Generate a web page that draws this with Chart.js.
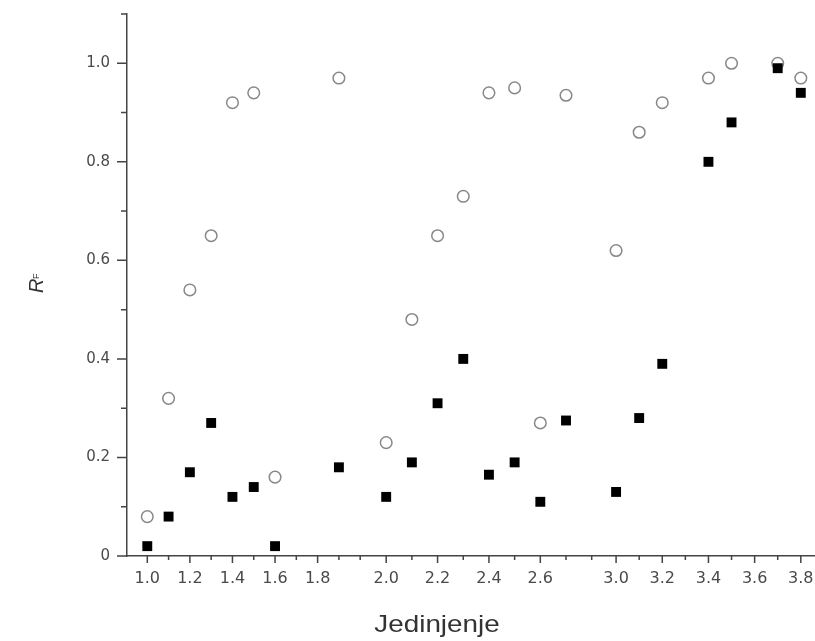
<!DOCTYPE html>
<html>
<head>
<meta charset="utf-8">
<script src="https://cdn.jsdelivr.net/npm/chart.js@4/dist/chart.umd.min.js"></script>
<style>
  html, body { margin: 0; padding: 0; background: #fff; }
  #wrap { width: 815px; height: 641px; }
</style>
</head>
<body>
<div id="wrap"><canvas id="rf"></canvas></div>
<script>
// compound numbers (Jedinjenje) and RF values
const compounds = [1.0, 1.1, 1.2, 1.3, 1.4, 1.5, 1.6, 1.9, 2.0, 2.1, 2.2, 2.3, 2.4, 2.5, 2.6, 2.7, 3.0, 3.1, 3.2, 3.4, 3.5, 3.7, 3.8];
const rfOpen   = [0.08, 0.32, 0.54, 0.65, 0.92, 0.94, 0.16, 0.97, 0.23, 0.48, 0.65, 0.73, 0.94, 0.95, 0.27, 0.935, 0.62, 0.86, 0.92, 0.97, 1.0, 1.0, 0.97];
const rfFilled = [0.02, 0.08, 0.17, 0.27, 0.12, 0.14, 0.02, 0.18, 0.12, 0.19, 0.31, 0.40, 0.165, 0.19, 0.11, 0.275, 0.13, 0.28, 0.39, 0.80, 0.88, 0.99, 0.94];

// tick labels along x, one per tick mark ('' = minor tick)
const xTickLabels = [
  '1.0', '', '1.2', '', '1.4', '', '1.6', '', '1.8', '', '',
  '2.0', '', '2.2', '', '2.4', '', '2.6', '', '',
  '3.0', '', '3.2', '', '3.4', '', '3.6', '', '3.8'
];
// the x axis is made of three pieces with a different width per 0.1 step
const xPieces = [
  { from: 1.0, count: 11, start: 0, step: 21.3 },
  { from: 2.0, count: 9, start: 239, step: 25.7 },
  { from: 3.0, count: 9, start: 469, step: 23.1 }
];

class PiecewiseScale extends Chart.Scale {
  static id = 'piecewise';
  static defaults = {};
  determineDataLimits() {
    this.min = this.options.min;
    this.max = this.options.max;
  }
  buildTicks() {
    const ticks = [];
    let k = 0;
    xPieces.forEach(p => {
      for (let j = 0; j < p.count; j++) {
        ticks.push({ value: p.from + j / 10, pos: p.start + j * p.step, text: xTickLabels[k] });
        k++;
      }
    });
    return ticks;
  }
  toAxis(v) {
    let piece = xPieces[0];
    xPieces.forEach(p => { if (v >= p.from - 1e-9) piece = p; });
    return piece.start + (v - piece.from) * 10 * piece.step;
  }
  getPixelForValue(v) {
    return this.getPixelForDecimal((this.toAxis(v) - this.min) / (this.max - this.min));
  }
  getPixelForTick(i) {
    const t = this.ticks[i];
    return this.getPixelForDecimal((t.pos - this.min) / (this.max - this.min));
  }
  getValueForPixel(px) {
    return this.getDecimalForPixel(px) * (this.max - this.min) + this.min;
  }
  getLabelForValue(v) { return String(v); }
}
Chart.register(PiecewiseScale);

const axisDecor = {
  id: 'axisDecor',
  afterDraw(chart) {
    const { ctx, chartArea: area } = chart;
    const x = chart.scales.x, y = chart.scales.y;
    ctx.save();
    ctx.strokeStyle = '#444';
    ctx.lineWidth = 1.5;
    ctx.beginPath();
    x.ticks.forEach((t, i) => {
      const px = x.getPixelForTick(i);
      ctx.moveTo(px, area.bottom);
      ctx.lineTo(px, area.bottom + (t.text ? 7 : 4));
    });
    y.ticks.forEach((t, i) => {
      const py = y.getPixelForTick(i);
      ctx.moveTo(area.left, py);
      ctx.lineTo(area.left - (i % 2 ? 6 : 10), py);
    });
    ctx.stroke();

    // x title (the original is slightly stretched sideways)
    ctx.save();
    ctx.fillStyle = '#333';
    ctx.font = '24px "Liberation Sans", Arial, sans-serif';
    ctx.textAlign = 'center';
    ctx.textBaseline = 'alphabetic';
    ctx.translate(437, 632);
    ctx.scale(1.16, 1);
    ctx.fillText('Jedinjenje', 0, 0);
    ctx.restore();

    // y title R with subscript F
    ctx.fillStyle = '#333';
    ctx.translate(43, 285);
    ctx.rotate(-Math.PI / 2);
    ctx.textAlign = 'left';
    ctx.textBaseline = 'alphabetic';
    ctx.font = 'italic 20px "Liberation Sans", Arial, sans-serif';
    ctx.fillText('R', -8, 0);
    ctx.font = '9px "Liberation Sans", Arial, sans-serif';
    ctx.fillText('F', 6, -4);
    ctx.restore();
  }
};

new Chart(document.getElementById('rf'), {
  type: 'scatter',
  data: {
    datasets: [
      {
        label: 'filled',
        data: compounds.map((c, i) => ({ x: c, y: rfFilled[i] })),
        pointStyle: 'rect',
        pointRadius: 7,
        backgroundColor: '#000',
        borderColor: '#000',
        borderWidth: 0
      },
      {
        label: 'open',
        data: compounds.map((c, i) => ({ x: c, y: rfOpen[i] })),
        pointStyle: 'circle',
        pointRadius: 5.8,
        backgroundColor: 'rgba(255,255,255,0)',
        borderColor: '#888',
        borderWidth: 1.5
      }
    ]
  },
  options: {
    responsive: true,
    maintainAspectRatio: false,
    animation: false,
    events: [],
    layout: { autoPadding: false, padding: { top: 14, right: 0, left: 0, bottom: 0 } },
    plugins: { legend: { display: false }, tooltip: { enabled: false } },
    scales: {
      x: {
        type: 'piecewise',
        min: -20.3,
        max: 668,
        grid: { display: false, drawTicks: false },
        border: { display: true, color: '#444', width: 1.5 },
        ticks: {
          autoSkip: false,
          maxRotation: 0,
          minRotation: 0,
          padding: 13,
          color: '#4a4a4a',
          font: { family: '"DejaVu Sans", sans-serif', size: 16 },
          callback: (v, i, ticks) => ticks[i].text
        },
        afterFit: s => { s.height = 85; s.paddingLeft = 0; s.paddingRight = 0; }
      },
      y: {
        min: 0,
        max: 1.1,
        grid: { display: false, drawTicks: false },
        border: { display: true, color: '#444', width: 1.5 },
        ticks: {
          stepSize: 0.1,
          autoSkip: false,
          padding: 17,
          color: '#4a4a4a',
          font: { family: '"DejaVu Sans", sans-serif', size: 15 },
          callback: v => {
            const n = Math.round(v * 10);
            if (n % 2) return '';
            return n === 0 ? '0' : (n / 10).toFixed(1);
          }
        },
        afterFit: s => { s.width = 127; s.paddingTop = 0; s.paddingBottom = 0; }
      }
    }
  },
  plugins: [axisDecor]
});
</script>
</body>
</html>
